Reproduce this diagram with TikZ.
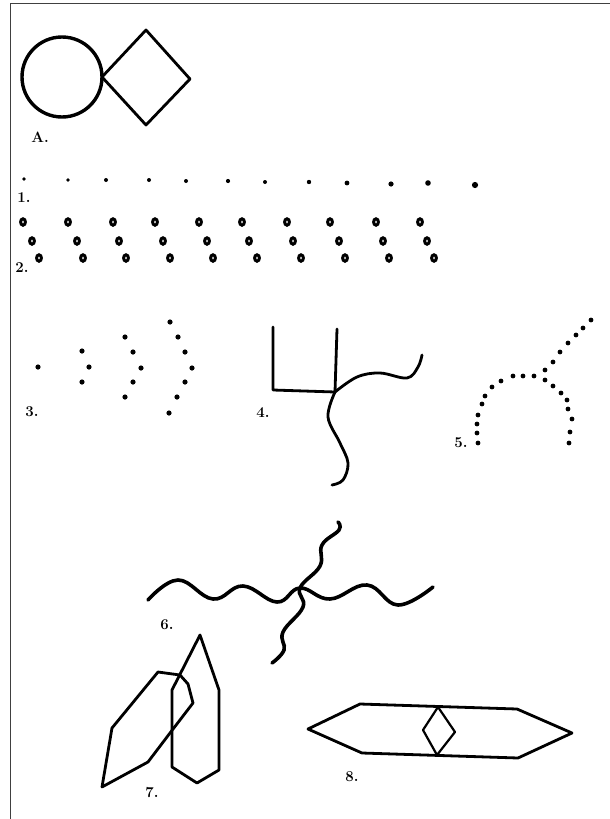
\documentclass[tikz,border=0pt]{standalone}
\usepackage{tikz}
\usetikzlibrary{positioning}

\begin{document}
\begin{tikzpicture}[
    x=1pt, y=-1pt,
    fig/.style={line width=2.8pt, line join=round, line cap=round},
    wave/.style={line width=3.6pt, line cap=round},
    ring/.style={line width=3pt},
    lbl/.style={font=\fontsize{15}{15}\selectfont\bfseries, inner sep=0pt}
  ]
    \useasboundingbox (0,0) rectangle (610,819);
    % frame
    \draw[line width=1.2pt, black!75] (610,3.5) -- (10.5,3.5) -- (10.5,819);

    % A
    \draw[line width=3.4pt] (62,77) circle [radius=40];
    \draw[fig] (102,77) -- (146,30) -- (190,79) -- (146,125) -- cycle;
    \node[lbl] (labA) at (40,137) {A.};

    % 1
    \foreach \x/\y/\r in {24/179/1.8, 68/180/1.8, 106/180/2, 149/180/2, 186/181/2,
        228/181/2.1, 265/182/2, 309/182/2.2, 347/183/2.4, 391/184/2.6, 428/183/2.8, 475/185/3.1}
      \fill (\x,\y) circle [radius=\r];
    \node[lbl] (lab1) at (24,198) {1.};

    % 2
    \foreach \a/\b/\c in {23/32/39, 68/77/83, 113/119/126, 155/163/170, 199/207/213,
        242/249/257, 287/293/301, 330/339/345, 376/383/389, 420/427/434} {
      \draw[ring] (\a,222) ellipse [x radius=2.4, y radius=3.2];
      \draw[ring] (\b,241) ellipse [x radius=2.4, y radius=3.2];
      \draw[ring] (\c,258) ellipse [x radius=2.4, y radius=3.2];
    }
    \node[lbl] (lab2) at (22,268) {2.};

    % 3
    \foreach \x/\y in {38/367, 82/351, 89/367, 82/382,
        125/337, 133/352, 141/368, 133/382, 125/397,
        170/322, 178/337, 185/352, 192/368, 185/382, 177/397, 169/413}
      \fill (\x,\y) circle [radius=2.6];
    \node[lbl] (lab3) at (32,412) {3.};

    % 4
    \draw[fig] (273,327) -- (273,390) -- (335,392) -- (337,329);
    \draw[fig] plot[smooth, tension=0.6] coordinates {(335,392) (357,377) (380,373) (407,378) (418,367) (422,355)};
    \draw[fig] plot[smooth, tension=0.6] coordinates {(335,392) (328,417) (340,443) (348,463) (343,480) (332,485)};
    \node[lbl] (lab4) at (263,413) {4.};

    % 5
    \foreach \x/\y in {478/443, 477/433, 477/424, 478/415, 482/404, 485/396, 492/387, 501/381,
        513/376, 523/376, 534/376, 545/380, 553/386, 561/393, 567/400, 568/409, 572/419, 570/432, 569/443,
        545/370, 553/362, 560/352, 568/343, 576/335, 583/328, 591/320}
      \fill (\x,\y) circle [radius=2.4];
    \node[lbl] (lab5) at (461,443) {5.};

    % 6
    \draw[wave] plot[smooth, tension=0.7] coordinates {(148,600) (178,580) (213,599) (243,586) (277,602)
        (300,588) (330,599) (367,585) (398,605) (433,587)};
    \draw[wave] plot[smooth, tension=0.7] coordinates {(338,522) (339,530) (322,545) (320,566) (300,588)
        (303,607) (283,632) (284,650) (272,663)};
    \node[lbl] (lab6) at (167,625) {6.};

    % 7
    \draw[fig] (102,787) -- (112,728) -- (158,672) -- (180,675) -- (188,684) -- (193,703) -- (170,733) -- (148,762) -- cycle;
    \draw[fig] (200,635) -- (219,690) -- (219,770) -- (197,783) -- (172,767) -- (172,690) -- cycle;
    \node[lbl] (lab7) at (152,793) {7.};

    % 8
    \draw[fig] (308,729) -- (360,704) -- (517,709) -- (572,733) -- (518,758) -- (362,753) -- cycle;
    \draw[line width=2.2pt, line join=round] (438,707) -- (455,732) -- (437,755) -- (423,730) -- cycle;
    \node[lbl] (lab8) at (352,777) {8.};
\end{tikzpicture}
\end{document}
